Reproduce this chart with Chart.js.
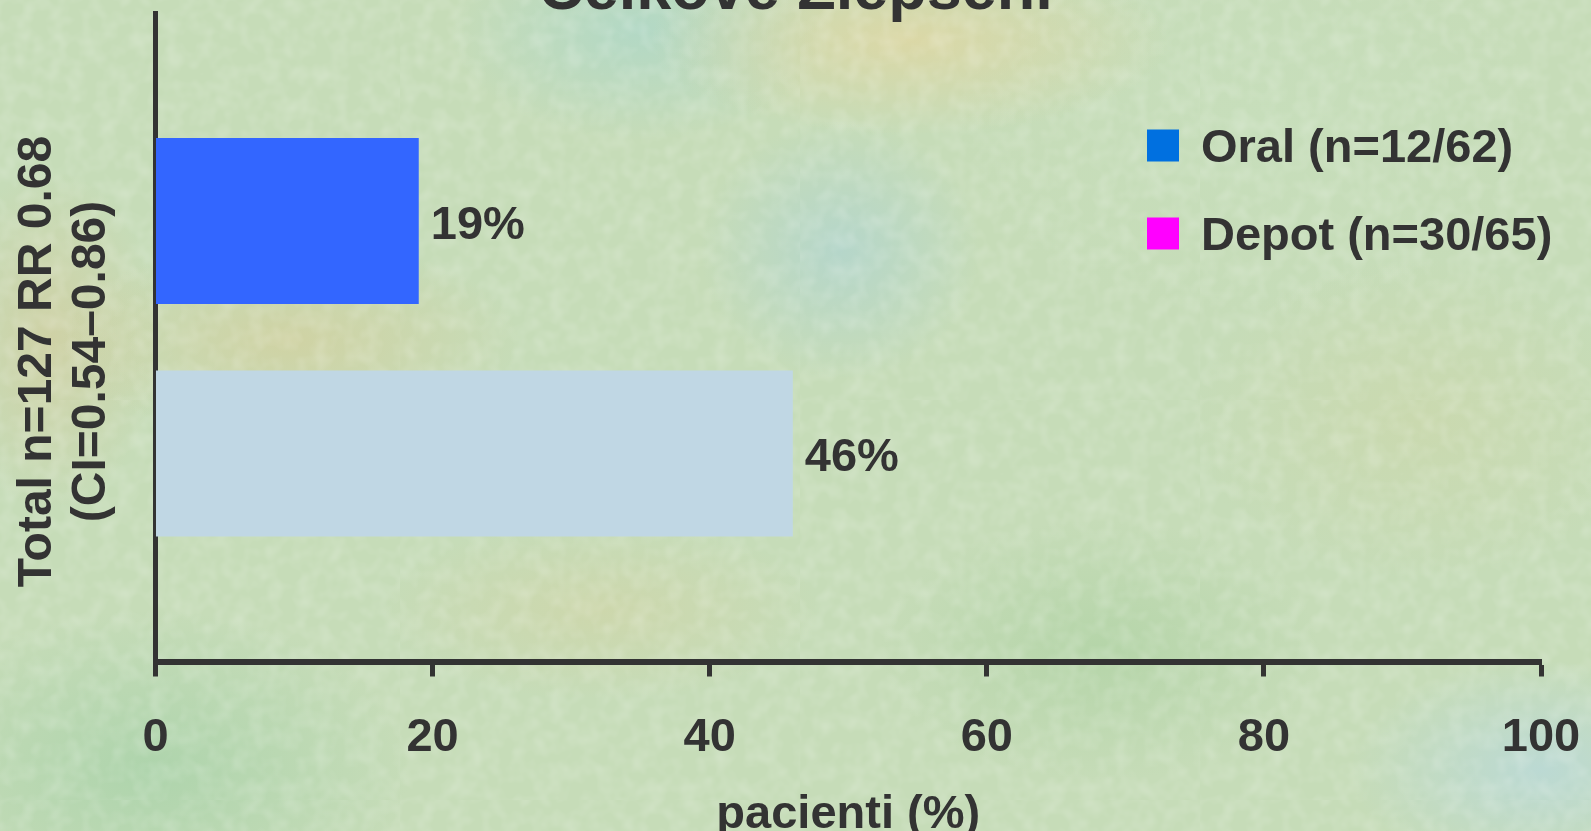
<!DOCTYPE html>
<html>
<head>
<meta charset="utf-8">
<script src="https://cdn.jsdelivr.net/npm/chart.js@4/dist/chart.umd.min.js"></script>
<style>
  html, body { margin: 0; padding: 0; width: 1591px; height: 831px; overflow: hidden; }
  body {
    position: relative;
    background:
      radial-gradient(ellipse 260px 95px at 910px 40px, rgba(226,214,160,0.75), rgba(226,214,160,0) 100%),
      radial-gradient(ellipse 190px 110px at 640px 30px, rgba(168,214,204,0.65), rgba(168,214,204,0) 100%),
      radial-gradient(ellipse 140px 130px at 840px 250px, rgba(170,210,214,0.6), rgba(170,210,214,0) 100%),
      radial-gradient(ellipse 230px 100px at 290px 340px, rgba(214,204,150,0.6), rgba(214,204,150,0) 100%),
      radial-gradient(ellipse 110px 170px at 50px 340px, rgba(214,200,150,0.55), rgba(214,200,150,0) 100%),
      radial-gradient(ellipse 220px 90px at 600px 610px, rgba(212,210,160,0.5), rgba(212,210,160,0) 100%),
      radial-gradient(ellipse 230px 160px at 1420px 420px, rgba(206,214,166,0.5), rgba(206,214,166,0) 100%),
      radial-gradient(ellipse 190px 110px at 1540px 770px, rgba(182,216,226,0.65), rgba(182,216,226,0) 100%),
      radial-gradient(ellipse 260px 160px at 150px 770px, rgba(150,204,160,0.5), rgba(150,204,160,0) 100%),
      radial-gradient(ellipse 220px 130px at 1100px 650px, rgba(160,204,150,0.45), rgba(160,204,150,0) 100%),
      radial-gradient(ellipse 300px 200px at 1250px 120px, rgba(200,224,190,0.5), rgba(200,224,190,0) 100%),
      #c6dcb8;
  }
  #texture {
    position: absolute; left: 0; top: 0; width: 1591px; height: 831px; opacity: 0.42;
    background-image: url("data:image/svg+xml;utf8,<svg xmlns='http://www.w3.org/2000/svg' width='400' height='400'><filter id='n'><feTurbulence type='fractalNoise' baseFrequency='0.06' numOctaves='2' stitchTiles='stitch'/><feColorMatrix values='0 0 0 0 1  0 0 0 0 1  0 0 0 0 1  0 0 0 0.9 -0.35'/></filter><rect width='100%' height='100%' filter='url(%23n)'/></svg>");
  }
  #wrap { position: absolute; left: 0; top: -40px; width: 1591px; height: 871px; }
</style>
</head>
<body>
<div id="texture"></div>
<div id="wrap"><canvas id="chart" width="1591" height="871"></canvas></div>
<script>
// Data
const categories = [''];
const seriesNames = ['Oral (n=12/62)', 'Depot (n=30/65)'];
const oralValues = [19];
const depotValues = [46];
const xTicks = [0, 20, 40, 60, 80, 100];
const yTitleLines = ['Total n=127 RR 0.68', '(CI=0.54–0.86)'];

// Colours
const barColors = ['#3366ff', '#c0d7e4'];
const legendColors = ['#0070e0', '#ff00ff'];
const ink = '#333333';
const family = '"Liberation Sans", Arial, Helvetica, sans-serif';

// Percent labels to the right of each bar
const valueLabels = {
  id: 'valueLabels',
  afterDatasetsDraw(chart) {
    const ctx = chart.ctx;
    ctx.save();
    ctx.font = 'bold 47px ' + family;
    ctx.fillStyle = ink;
    ctx.textAlign = 'left';
    ctx.textBaseline = 'middle';
    chart.data.datasets.forEach((ds, i) => {
      chart.getDatasetMeta(i).data.forEach((bar, j) => {
        ctx.fillText(ds.data[j] + '%', bar.x + 12, bar.y + 5);
      });
    });
    ctx.restore();
  }
};

// Legend placed inside the plot, upper right
const insideLegend = {
  id: 'insideLegend',
  afterDraw(chart) {
    const ctx = chart.ctx;
    const top = chart.chartArea.top;
    ctx.save();
    ctx.font = 'bold 47px ' + family;
    ctx.textAlign = 'left';
    ctx.textBaseline = 'middle';
    chart.data.datasets.forEach((ds, i) => {
      const cy = top + 132.5 + i * 88;
      ctx.fillStyle = legendColors[i];
      ctx.fillRect(1147, cy - 16, 32, 32);
      ctx.fillStyle = ink;
      ctx.fillText(ds.label, 1201, cy + 4);
    });
    ctx.restore();
  }
};

// Two-line rotated caption along the category axis
const categoryCaption = {
  id: 'categoryCaption',
  afterDraw(chart) {
    const ctx = chart.ctx;
    const cy = chart.chartArea.top + 348.5;
    ctx.save();
    ctx.font = 'bold 48px ' + family;
    ctx.fillStyle = ink;
    ctx.textAlign = 'center';
    ctx.textBaseline = 'middle';
    yTitleLines.forEach((line, i) => {
      ctx.save();
      ctx.translate(38 + i * 54, cy);
      ctx.rotate(-Math.PI / 2);
      ctx.fillText(line, 0, 0);
      ctx.restore();
    });
    ctx.restore();
  }
};

new Chart(document.getElementById('chart'), {
  type: 'bar',
  data: {
    labels: categories,
    datasets: [
      { label: seriesNames[0], data: oralValues, backgroundColor: barColors[0], borderWidth: 0 },
      { label: seriesNames[1], data: depotValues, backgroundColor: barColors[1], borderWidth: 0 }
    ]
  },
  options: {
    indexAxis: 'y',
    responsive: false,
    devicePixelRatio: 1,
    animation: false,
    layout: { padding: 0 },
    datasets: { bar: { categoryPercentage: 0.717, barPercentage: 0.714 } },
    plugins: {
      legend: { display: false },
      tooltip: { enabled: false },
      title: {
        display: true,
        text: 'Celkové Zlepšení',
        color: ink,
        font: { family, size: 63, weight: 'bold', lineHeight: '43px' },
        padding: { top: 10, bottom: 0 }
      }
    },
    scales: {
      x: {
        type: 'linear',
        position: 'bottom',
        min: 0,
        max: 100,
        afterBuildTicks: s => { s.ticks = xTicks.map(v => ({ value: v })); },
        afterFit: s => { s.height = 169.5; s.paddingLeft = 0; s.paddingRight = 50; },
        grid: { display: true, drawOnChartArea: false, drawTicks: true, tickLength: 15, tickWidth: 5, tickColor: ink },
        border: { display: true, color: ink, width: 6 },
        ticks: {
          color: ink, padding: 38, maxRotation: 0, autoSkip: false,
          font: { family, size: 47, weight: 'bold', lineHeight: 1 }
        },
        title: {
          display: true, text: 'pacienti (%)', color: ink,
          font: { family, size: 47, weight: 'bold', lineHeight: 0.7 },
          padding: { top: 0, bottom: 0 }
        }
      },
      y: {
        type: 'category',
        position: 'left',
        afterFit: s => { s.width = 155.5; },
        grid: { display: false },
        ticks: { display: false },
        border: { display: true, color: ink, width: 5 },
        title: { display: false }
      }
    }
  },
  plugins: [valueLabels, insideLegend, categoryCaption]
});
</script>
</body>
</html>
